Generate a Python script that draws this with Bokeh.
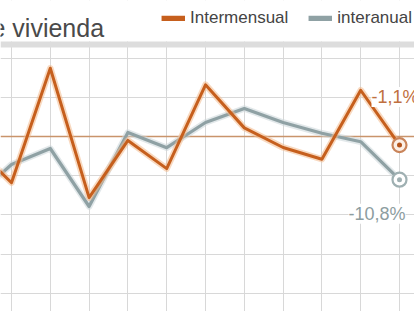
from bokeh.plotting import figure
from bokeh.models import (Range1d, FixedTicker, Span, BoxAnnotation, Label, Legend,
                          LegendItem, ColumnDataSource, Grid)
from bokeh.embed import file_html
from bokeh.resources import INLINE

# ---- data ----
idx = list(range(-1, 11))            # month positions (index -1 is just off the left edge)
intermensual = [-1.0, -5.9, 8.7, -7.8, -0.5, -4.1, 6.6, 1.1, -1.4, -2.9, 5.9, -1.1]
interanual = [-15.8, -7.0, -3.0, -17.5, 1.0, -2.8, 3.5, 7.0, 3.5, 0.8, -1.3, -10.8]
title_text = "e vivienda"
series_names = ["Intermensual", "interanual"]

ORANGE = "#c65f1d"
ORANGE_HALO = "#f3b98c"
GRAY = "#8fa1a4"
GRAY_HALO = "#cbd6d8"

W, H = 414, 311
px_x, x0px = 38.8, 11.0
zero_px = 136.0
ppu_o = 39.2 / 5.0      # pixels per unit, intermensual
ppu_g = 4.0             # pixels per unit, interanual


def yv(px):
    return (zero_px - px) / ppu_o


p = figure(width=W, height=H, output_backend="svg", toolbar_location=None, tools="",
           x_range=Range1d(-x0px / px_x, (W - x0px) / px_x),
           y_range=Range1d(-(H - zero_px) / ppu_o, zero_px / ppu_o),
           x_axis_location=None, y_axis_location=None, min_border=0)
p.extra_y_ranges = {"g": Range1d(-(H - zero_px) / ppu_g, zero_px / ppu_g)}
p.outline_line_color = None
p.background_fill_color = "white"
p.border_fill_color = "white"
p.xgrid.visible = False
p.ygrid.visible = False

p.add_layout(Grid(dimension=0, ticker=FixedTicker(ticks=list(range(0, 11))),
                  grid_line_color="#d8d8d8", grid_line_width=1))
p.add_layout(Grid(dimension=1, ticker=FixedTicker(ticks=[10, 5, -5, -10, -15, -20]),
                  grid_line_color="#d8d8d8", grid_line_width=1))
p.add_layout(Span(location=0, dimension="width", line_color="#c9946b", line_width=1.6,
                  level="underlay"))

src = ColumnDataSource(dict(x=idx, o=intermensual, g=interanual))
last = ColumnDataSource(dict(x=idx[-1:], o=intermensual[-1:], g=interanual[-1:]))

# interanual (gray)
p.line("x", "g", source=src, y_range_name="g", line_color=GRAY_HALO, line_width=6.5,
       line_alpha=0.55, line_join="round")
p.line("x", "g", source=src, y_range_name="g", line_color=GRAY, line_width=3.2,
       line_join="round")
# intermensual (orange)
p.line("x", "o", source=src, line_color=ORANGE_HALO, line_width=6.5, line_alpha=0.55,
       line_join="round")
p.line("x", "o", source=src, line_color=ORANGE, line_width=3.0, line_join="round")

# end markers
p.scatter("x", "g", source=last, y_range_name="g", size=14, fill_color="white",
          line_color="#9fb0b2", line_width=2.2)
p.scatter("x", "g", source=last, y_range_name="g", size=5, fill_color="#9fb0b2",
          line_color=None)
p.scatter("x", "o", source=last, size=14, fill_color="#fbefe6",
          line_color="#c9845a", line_width=2.2)
p.scatter("x", "o", source=last, size=5, fill_color="#b4541c", line_color=None)

# top area: white cover + gray band
p.add_layout(BoxAnnotation(bottom=yv(41), fill_color="white", fill_alpha=1.0,
                           line_color=None))
p.add_layout(BoxAnnotation(bottom=yv(47), top=yv(41), fill_color="#dddddd",
                           fill_alpha=1.0, line_color=None))

# title
p.add_layout(Label(x=-9, x_units="screen", y=yv(27), text=title_text,
                   text_font="Liberation Sans", text_font_size="25px",
                   text_color="#4a4a4a", text_baseline="alphabetic"))

# legend (swatch renderers sit outside the visible x range)
lo = p.line(x=[-20, -19], y=[0, 0], line_color=ORANGE, line_width=5.5)
lg = p.line(x=[-20, -19], y=[0, 0], line_color=GRAY, line_width=5.5)
legend = Legend(items=[LegendItem(label=series_names[0], renderers=[lo]),
                       LegendItem(label=series_names[1], renderers=[lg])],
                orientation="horizontal", location="top_right", margin=2, padding=2,
                label_height=32, glyph_width=24, glyph_height=6, label_standoff=5,
                spacing=20, border_line_color=None, background_fill_alpha=0,
                label_text_font="Liberation Sans", label_text_font_size="17px",
                label_text_color="#444444")
p.add_layout(legend)


def fmt(v):
    return f"{v:.1f}%".replace(".", ",")


p.add_layout(Label(x=idx[-1], y=intermensual[-1], x_offset=-28, y_offset=48,
                   text=fmt(intermensual[-1]), text_font="Liberation Sans",
                   text_font_size="18px", text_color="#c0703f", text_baseline="middle",
                   background_fill_color="white"))
p.add_layout(Label(x=idx[-1], y=interanual[-1], y_range_name="g", x_offset=-51,
                   y_offset=-34, text=fmt(interanual[-1]), text_font="Liberation Sans",
                   text_font_size="18px", text_color="#8d9d9f", text_baseline="middle",
                   background_fill_color="white"))

open("out.html", "w").write(file_html(p, INLINE))
